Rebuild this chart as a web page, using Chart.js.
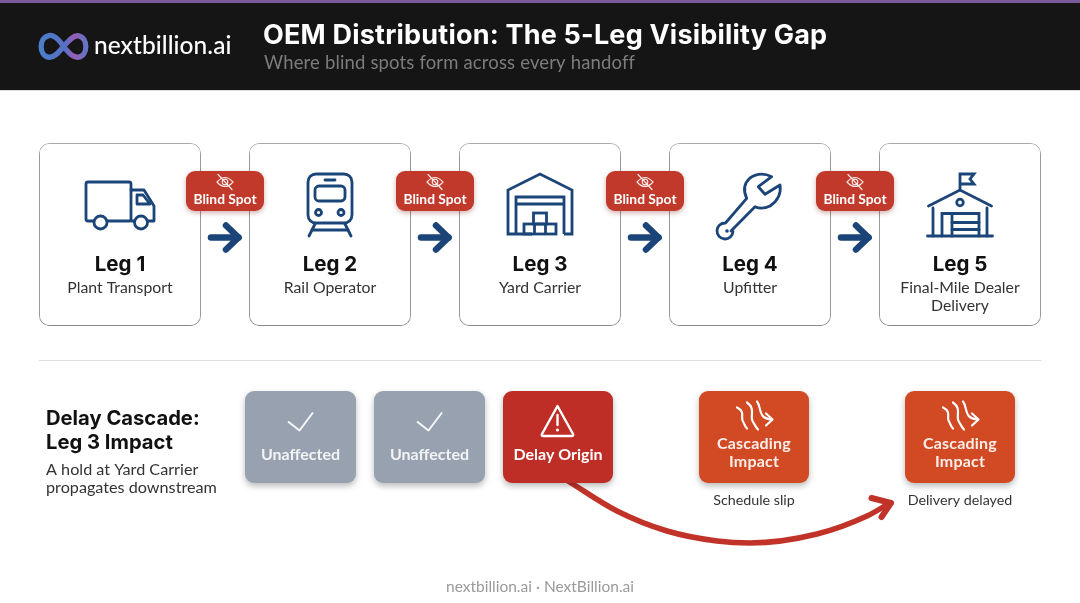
<!DOCTYPE html>
<html><head><meta charset="utf-8">
<style>html,body{margin:0;padding:0;background:#fff;overflow:hidden}canvas{display:block}</style>
<script src="https://cdn.jsdelivr.net/npm/chart.js@4"></script>
</head><body><canvas id="c" width="1080" height="603"></canvas>
<script>
// ---- content ----
const brandName = 'nextbillion.ai';
const chartTitle = 'OEM Distribution: The 5-Leg Visibility Gap';
const chartSubtitle = 'Where blind spots form across every handoff';
const legNames = ['Leg 1','Leg 2','Leg 3','Leg 4','Leg 5'];
const legRoles = [['Plant Transport'],['Rail Operator'],['Yard Carrier'],['Upfitter'],['Final-Mile Dealer','Delivery']];
const gapLabel = 'Blind Spot';
const cascadeHeading = ['Delay Cascade:','Leg 3 Impact'];
const cascadeBlurb = ['A hold at Yard Carrier','propagates downstream'];
const unaffectedLabels = ['Unaffected','Unaffected'];
const originLabel = 'Delay Origin';
const impactLabels = [['Cascading','Impact'],['Cascading','Impact']];
const impactNotes = ['Schedule slip','Delivery delayed'];
const footerText = 'nextbillion.ai · NextBillion.ai';

// ---- layout (scale units = picture pixels) ----
const legX = [120,330,540,750,960];
const legIconY = [215,207,207,215,207];
const gapX = [225,435,645,855];
const unaffectedX = [300.5,429.5];
const originX = [558];
const impactX = [754,960];
const curveX = [568,617,667,717,750,817,867,890];
const curveY = [481,511,531,541,543,534,516,503];

const NAVY='#1B4478', INK='#111', BODY='#333';
const HEAD='Inter, Lato, sans-serif', TXT='Lato, "Noto Sans", sans-serif';

const bar=(xs,top,bottom,width,color,order,extra={})=>Object.assign({
  type:'bar',data:xs.map(x=>({x,y:[top,bottom]})),barThickness:width,backgroundColor:color,
  borderSkipped:false,inflateAmount:0,stack:'all',order,clip:false,borderWidth:0},extra);
const line=(xs,ys,color,width,order,extra={})=>Object.assign({
  type:'line',data:xs.map((x,i)=>({x,y:ys[i]})),borderColor:color,borderWidth:width,pointRadius:0,
  borderCapStyle:'round',borderJoinStyle:'round',fill:false,order,clip:false},extra);

const datasets=[
  bar([540],0,91,1080,'#dcdcdc',100),
  bar([540],0,90,1080,'#151515',99),
  bar([540],0,3,1080,'#7B5A9E',98),
  line([39,1041],[360.5,360.5],'#dedede',1,97),
  bar(legX,143,326,162,'#ffffff',90,{borderColor:'#b9b9b9',borderWidth:1,borderRadius:10,shadow:['rgba(0,0,0,.38)',8,3]}),
  bar(gapX,171,211,78,'#C0392B',80,{borderRadius:9,shadow:['rgba(120,30,20,.35)',5,2]}),
  line(curveX,curveY,'#C13328',5.5,70,{cubicInterpolationMode:'monotone'}),
  bar(unaffectedX,391,483,111,'#98A1AF',60,{borderRadius:9,shadow:['rgba(0,0,0,.28)',6,3]}),
  bar(originX,391,483,110,'#BE2E26',60,{borderRadius:9,shadow:['rgba(0,0,0,.28)',6,3]}),
  bar(impactX,391,483,110,'#D14A24',60,{borderRadius:9,shadow:['rgba(0,0,0,.28)',6,3]}),
  line([871.5,891,881.5],[498,503,517],'#C13328',6,69,{tension:0})
];

function setStroke(c,col,w){c.strokeStyle=col;c.lineWidth=w;c.lineCap='round';c.lineJoin='round';}
function poly(c,pts,close){c.beginPath();pts.forEach((p,i)=>i?c.lineTo(p[0],p[1]):c.moveTo(p[0],p[1]));if(close)c.closePath();c.stroke();}
function rr(c,x,y,w,h,r){c.beginPath();c.roundRect(x,y,w,h,r);c.stroke();}
function ring(c,x,y,r,fill){c.beginPath();c.arc(x,y,r,0,Math.PI*2);if(fill){c.fillStyle=fill;c.fill();}c.stroke();}

const icons=[
 function truck(c){setStroke(c,NAVY,2.8);
  rr(c,-34,-33,45,39,2);
  poly(c,[[11,-25],[24,-25],[34,-9],[34,6],[11,6]]);
  poly(c,[[17,-20],[23,-20],[30,-11],[17,-11]],true);
  ring(c,-19.5,7.5,6.5,'#fff');ring(c,21,7.5,6.5,'#fff');},
 function train(c){setStroke(c,NAVY,2.8);
  rr(c,-22,-33,44,49,8);rr(c,-15,-21,30,15,4);poly(c,[[-5,-27],[5,-27]]);
  ring(c,-11.5,5.5,3,'#fff');ring(c,11,5.5,3,'#fff');
  poly(c,[[-15,17],[-21,29]]);poly(c,[[15,17],[21,29]]);poly(c,[[-18,23],[18,23]]);},
 function warehouse(c){setStroke(c,NAVY,2.8);c.lineCap='butt';c.lineJoin='miter';
  poly(c,[[-8,27],[-32,27],[-32,-17],[0,-33],[32,-17],[32,27],[24,27]]);
  poly(c,[[-24,27],[-24,-10],[24,-10],[24,27]]);poly(c,[[-24,-3],[24,-3]]);
  c.strokeRect(-16,17,32,10);poly(c,[[-5.5,17],[-5.5,27]]);poly(c,[[5.5,17],[5.5,27]]);
  c.strokeRect(-6.5,6,13,11);},
 function wrench(c){setStroke(c,NAVY,2.8);c.translate(-750,-215);
  c.beginPath();c.moveTo(771.7,176.7);c.lineTo(758.3,186.7);c.lineTo(765,194.3);c.lineTo(780,185);
  c.quadraticCurveTo(782,198,770,206);c.quadraticCurveTo(762,210,755,206.7);
  c.lineTo(731,231);c.arc(725,231,8,0.05,Math.PI*1.52);c.lineTo(746.7,198.3);
  c.quadraticCurveTo(741,186,750,178);c.quadraticCurveTo(760,171,771.7,176.7);c.closePath();c.stroke();
  c.fillStyle=NAVY;c.beginPath();c.arc(727,231,1.8,0,7);c.fill();},
 function dealer(c){setStroke(c,NAVY,2.8);c.lineJoin='miter';
  poly(c,[[0,-17],[0,-33],[14,-33],[10,-28],[14,-23],[0,-23]]);
  poly(c,[[-31.5,-1],[0,-17],[31.5,-1]]);poly(c,[[-27,1],[-27,29]]);poly(c,[[27,1],[27,29]]);
  poly(c,[[-32.5,29],[32.5,29]]);ring(c,0,-4.5,3.3);
  poly(c,[[-18,29],[-18,6.5],[19,6.5],[19,29]]);poly(c,[[-8,6.5],[-8,29]]);
  poly(c,[[-8,15.5],[19,15.5]]);poly(c,[[-8,22.5],[19,22.5]]);}
];
function eyeOff(c){setStroke(c,'#fbe9e6',1.2);
  c.beginPath();c.moveTo(-8,0);c.quadraticCurveTo(0,-9,8,0);c.quadraticCurveTo(0,9,-8,0);c.stroke();
  ring(c,0,0,2.8);poly(c,[[-7,-7.5],[7,7.5]]);}
function arrowIcon(c){setStroke(c,NAVY,6.5);poly(c,[[-14,0],[13.5,0]]);poly(c,[[1,-12],[13.5,0],[1,12]]);}
function check(c){setStroke(c,'#f6f7f9',2);c.lineCap='butt';poly(c,[[-12.5,0],[-1,9],[12.5,-9]]);}
function warn(c){setStroke(c,'#fff',2.4);
  c.beginPath();c.moveTo(0,-15);c.lineTo(15.5,13);c.quadraticCurveTo(16.5,15,14,15);c.lineTo(-14,15);c.quadraticCurveTo(-16.5,15,-15.5,13);c.closePath();c.stroke();
  poly(c,[[0,-6],[0,4]]);c.fillStyle='#fff';c.beginPath();c.arc(0,9,1.6,0,7);c.fill();}
function wave(c){setStroke(c,'#fff',2.2);
  c.beginPath();c.moveTo(-17,-8);c.bezierCurveTo(-8,-4,-14,3,-11,6);c.bezierCurveTo(-9,9,-10,10,-7,13);c.stroke();
  c.beginPath();c.moveTo(-7,-13);c.bezierCurveTo(3,-6,-6,2,0,8);c.bezierCurveTo(1,10,2,12,4,14);c.stroke();
  c.beginPath();c.moveTo(3,-14);c.bezierCurveTo(8,-8,3,3,18,4);c.stroke();
  poly(c,[[12,-2],[18.5,4],[12,10]]);}
function logo(c){
  c.scale(.95,.97);
  const g=c.createLinearGradient(-25,0,25,0);g.addColorStop(0,'#4A7FCB');g.addColorStop(.55,'#5A6FC4');g.addColorStop(.72,'#9A5BB5');g.addColorStop(1,'#5E77C8');
  setStroke(c,g,5.5);c.beginPath();c.moveTo(0,0);
  c.bezierCurveTo(-8,-12,-14,-12,-16,-11);c.bezierCurveTo(-26,-9,-26,9,-16,11);c.bezierCurveTo(-10,12,-5,6,0,0);
  c.bezierCurveTo(6,-7,11,-12,16,-11);c.bezierCurveTo(26,-9,26,9,16,11);c.bezierCurveTo(10,12,6,7,0,0);c.stroke();}

const artwork={
 id:'artwork',
 beforeDatasetDraw(chart,args){const d=chart.data.datasets[args.index];const c=chart.ctx;c.save();
   if(d.shadow){c.shadowColor=d.shadow[0];c.shadowBlur=d.shadow[1];c.shadowOffsetY=d.shadow[2];}},
 afterDatasetDraw(chart){chart.ctx.restore();},
 afterDatasetsDraw(chart){
  const c=chart.ctx,X=chart.scales.x,Y=chart.scales.y;
  const at=(x,y,fn)=>{c.save();c.translate(X.getPixelForValue(x),Y.getPixelForValue(y));fn(c);c.restore();};
  const T=(s,x,y,font,col,align='center',sp='0px')=>{c.save();c.font=font;c.fillStyle=col;c.textAlign=align;c.textBaseline='alphabetic';c.letterSpacing=sp;
    c.fillText(s,X.getPixelForValue(x),Y.getPixelForValue(y));c.restore();};
  // header
  at(63.5,46.5,logo);
  T(brandName,94,54,'500 24.5px '+TXT,'#fff','left','0.05px');
  T(chartTitle,263,43.5,'700 27px '+HEAD,'#fff','left','0.2px');
  T(chartSubtitle,264,69,'400 18.5px '+TXT,'#7c7c7c','left','0.15px');
  // legs
  legX.forEach((x,i)=>{
    at(x,legIconY[i],icons[i]);
    T(legNames[i],x,270.5,'700 20.5px '+HEAD,INK);
    legRoles[i].forEach((r,j)=>T(r,x,293+j*18,'400 15.8px '+TXT,BODY));
  });
  gapX.forEach(x=>{
    at(x,182,eyeOff);
    T(gapLabel,x,204,'700 13.8px '+TXT,'#fff');
    at(x,237.5,arrowIcon);
  });
  // cascade
  cascadeHeading.forEach((s,i)=>T(s,46,425+i*24,'700 20.2px '+HEAD,INK,'left'));
  cascadeBlurb.forEach((s,i)=>T(s,46,475+i*18,'400 16.2px '+TXT,BODY,'left'));
  unaffectedX.forEach((x,i)=>{at(x,421.5,check);T(unaffectedLabels[i],x,459.5,'700 16px '+TXT,'#f2f3f5');});
  originX.forEach(x=>{at(x-0.5,421,warn);T(originLabel,x,459.5,'700 16px '+TXT,'#fff');});
  impactX.forEach((x,i)=>{
    at(x,415.5,wave);
    impactLabels[i].forEach((s,j)=>T(s,x,449+j*18,'700 16px '+TXT,'#fbeee9','center','0.2px'));
    T(impactNotes[i],x,504.5,'400 14.3px '+TXT,BODY);
  });
  T(footerText,540,592,'400 15.5px '+TXT,'#9a9a9a');
 }
};

new Chart(document.getElementById('c'),{
  type:'bar',
  data:{datasets},
  options:{responsive:false,animation:false,events:[],devicePixelRatio:1,
    layout:{padding:0},
    plugins:{legend:{display:false},tooltip:{enabled:false},title:{display:false}},
    scales:{
      x:{type:'linear',min:0,max:1080,display:false,stacked:true,offset:false},
      y:{type:'linear',min:0,max:603,reverse:true,display:false,stacked:false}
    }},
  plugins:[artwork]
});
</script></body></html>
